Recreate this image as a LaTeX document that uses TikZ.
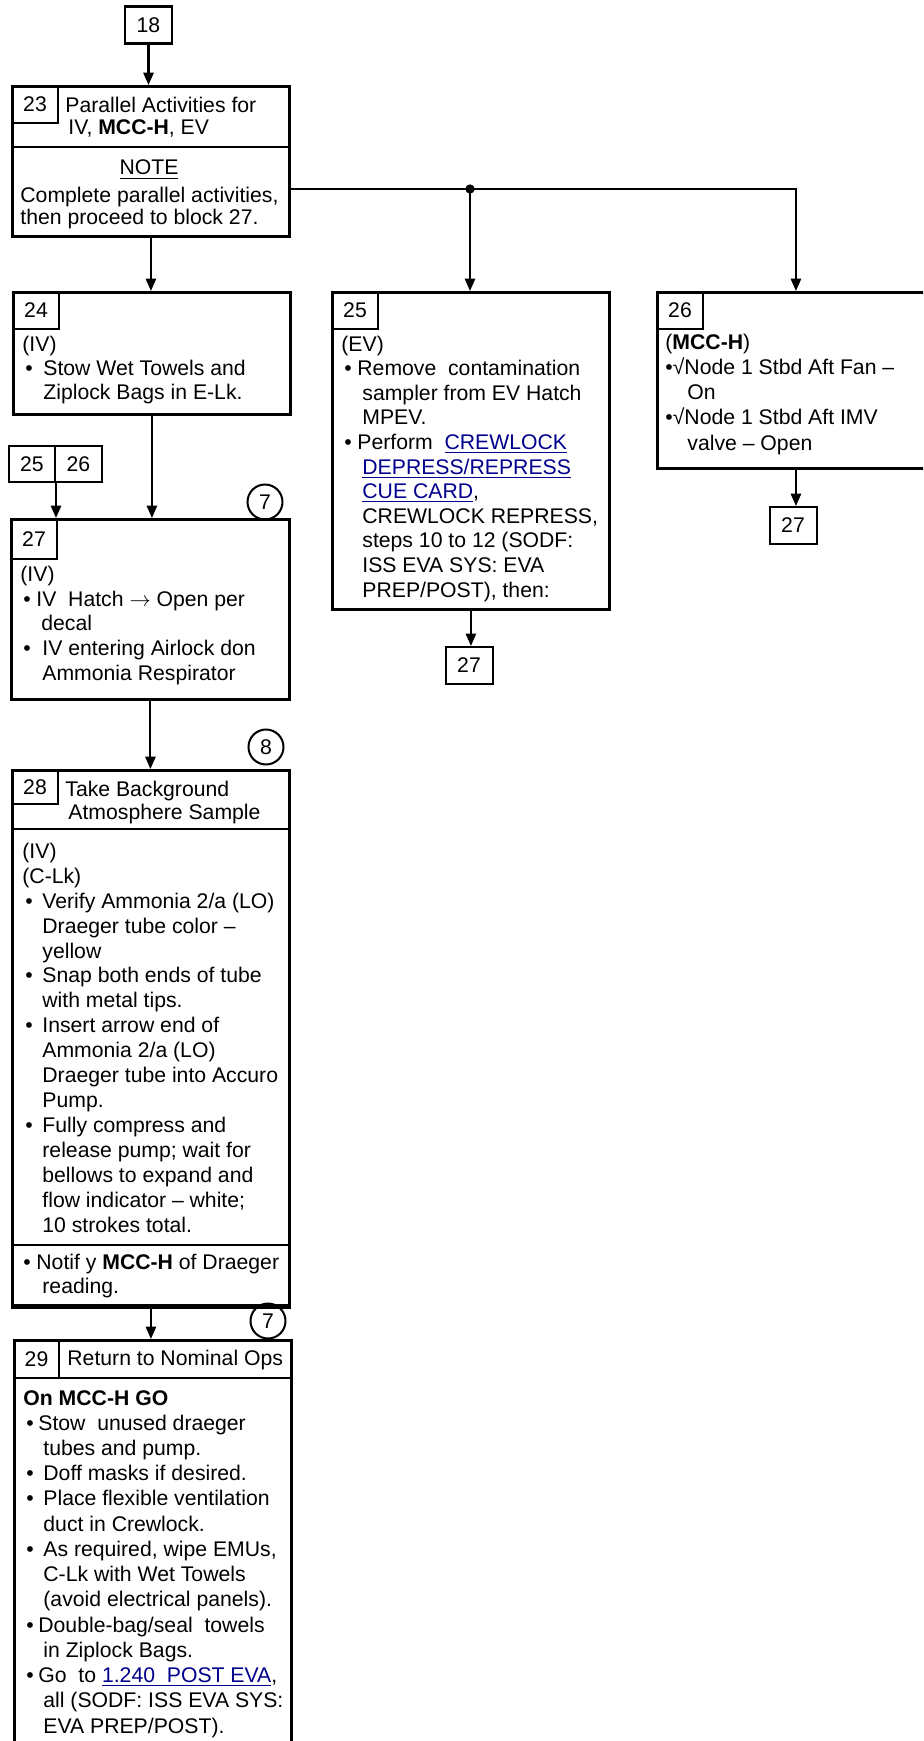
\documentclass[tikz,border=0pt]{standalone}
\usepackage{fontspec}
\setmainfont{Liberation Sans}
\usetikzlibrary{arrows.meta}

\newlength{\pxu}
\setlength{\pxu}{0.4717pt}
\definecolor{linkblue}{RGB}{0,0,140}
\newcommand{\bul}[1]{\makebox[#1\pxu][l]{\hspace*{3\pxu}\textbullet}}
\newcommand{\gap}[1]{\hspace*{#1\pxu}}
\newcommand{\lnk}[1]{\textcolor{linkblue}{\underline{#1}}}

\begin{document}
\begin{tikzpicture}[
    x=0.4717pt, y=-0.4717pt,
    frame/.style={draw, line width=1.35pt, anchor=north west, inner sep=0pt, minimum width=277*\pxu},
    head/.style={draw, line width=0.95pt, anchor=north west, inner sep=0pt, minimum width=277*\pxu},
    cell/.style={draw, line width=0.95pt, anchor=north west, inner sep=0pt, minimum width=46*\pxu},
    tag/.style={draw, line width=0.95pt, inner sep=0pt, minimum width=47*\pxu, minimum height=37*\pxu},
    ring/.style={circle, draw, line width=0.95pt, inner sep=0pt, minimum size=35*\pxu},
    txt/.style={anchor=base west, align=left, inner sep=0pt, font=\fontsize{10}{#1}\selectfont},
    txt/.default=11.6,
    arrow/.style={-{Triangle[length=5.8pt,width=4.8pt]}, line width=0.95pt},
    every node/.style={font=\fontsize{10}{11.6}\selectfont}
]
\useasboundingbox (0,0) rectangle (923,1741);
\clip (0,0) rectangle (923,1741);

% Entry
\node[tag] (t18) at (148.5,25) {18};

% Block 23: parallel activities (text nodes sit on their last baseline)
\node[frame, minimum height=150*\pxu] (b23) at (11,85) {};
\node[head, minimum height=61*\pxu] (h23) at (11,85) {};
\node[cell, minimum height=37*\pxu] (n23) at (11,85) {23};
\node[txt=10.7] (l23) at (65,135) {Parallel Activities for\\\gap{3}IV, \textbf{MCC-H}, EV};
\node[txt, anchor=base] (note23) at (149,175) {\underline{NOTE}};
\node[txt=10.7] (m23) at (20,225) {Complete parallel activities,\\then proceed to block 27.};

% Block 24 (IV)
\node[frame, minimum height=122*\pxu] (b24) at (12,291) {};
\node[cell, minimum height=37*\pxu] (n24) at (12,291) {24};
\node[txt=11.3] (l24) at (22,399) {(IV)\\
  \bul{21}Stow Wet Towels and\\
  \gap{21}Ziplock Bags in E-Lk.};

% Block 25 (EV)
\node[frame, minimum height=317*\pxu] (b25) at (331,291) {};
\node[cell, minimum height=37*\pxu] (n25) at (331,291) {25};
\node[txt=11.6] (l25) at (341,597) {(EV)\\
  \bul{16}Remove~~contamination\\
  \gap{21}sampler from EV Hatch\\
  \gap{21}MPEV.\\
  \bul{16}Perform~~\lnk{CREWLOCK}\\
  \gap{21}\lnk{DEPRESS/REPRESS}\\
  \gap{21}\lnk{CUE CARD},\\
  \gap{21}CREWLOCK REPRESS,\\
  \gap{21}steps 10 to 12 (SODF:\\
  \gap{21}ISS EVA SYS: EVA\\
  \gap{21}PREP/POST), then:};

% Block 26 (MCC-H)
\node[frame, minimum height=176*\pxu] (b26) at (656,291) {};
\node[cell, minimum height=37*\pxu] (n26) at (656,291) {26};
\node[txt=11.8] (l26) at (665,450) {(\textbf{MCC-H})\\
  \textbullet√Node 1 Stbd Aft Fan --\\
  \gap{22}On\\
  \textbullet√Node 1 Stbd Aft IMV\\
  \gap{22}valve -- Open};

% Off-page references
\node[tag] (t27a) at (469,665.5) {27};
\node[tag] (t27b) at (793,525.5) {27};
\node[tag, minimum width=46*\pxu, minimum height=36*\pxu] (t25) at (32,464) {25};
\node[tag, minimum height=36*\pxu] (t26) at (78.5,464) {26};

% Block 27
\node[frame, minimum width=278*\pxu, minimum height=180*\pxu] (b27) at (10,518) {};
\node[cell, minimum height=40*\pxu] (n27) at (10,518) {27};
\node[ring] (c7a) at (265,502) {7};
\node[txt=11.6] (l27) at (20,680) {(IV)\\
  \bul{16}IV~~Hatch $\rightarrow$ Open per\\
  \gap{21}decal\\
  \bul{22}IV entering Airlock don\\
  \gap{22}Ammonia Respirator};

% Block 28: background sample
\node[frame, minimum height=537*\pxu] (b28) at (11,769) {};
\node[head, minimum height=59*\pxu] (h28) at (11,769) {};
\node[cell, minimum height=34*\pxu] (n28) at (11,769) {28};
\node[head, anchor=south west, minimum height=60*\pxu] (f28) at (11,1306) {};
\node[ring] (c8) at (266,747) {8};
\node[txt=10.7] (l28) at (65,819) {Take Background\\\gap{3}Atmosphere Sample};
\node[txt=11.75] (m28) at (22,1232) {(IV)\\
  (C-Lk)\\
  \bul{20}Verify Ammonia 2/a (LO)\\
  \gap{20}Draeger tube color --\\
  \gap{20}yellow\\
  \bul{20}Snap both ends of tube\\
  \gap{20}with metal tips.\\
  \bul{20}Insert arrow end of\\
  \gap{20}Ammonia 2/a (LO)\\
  \gap{20}Draeger tube into Accuro\\
  \gap{20}Pump.\\
  \bul{20}Fully compress and\\
  \gap{20}release pump; wait for\\
  \gap{20}bellows to expand and\\
  \gap{20}flow indicator -- white;\\
  \gap{20}10 strokes total.};
\node[txt=10.9] (r28) at (20,1293) {\bul{16}Notif y \textbf{MCC-H} of Draeger\\
  \gap{22}reading.};

% Block 29: nominal ops
\node[frame, minimum height=420*\pxu] (b29) at (13,1339) {};
\node[head, minimum height=38*\pxu] (h29) at (13,1339) {};
\node[cell, minimum width=45*\pxu, minimum height=38*\pxu] (n29) at (13,1339) {29};
\node[ring] (c7b) at (268,1321) {7};
\node[txt] (l29) at (67,1365) {Return to Nominal Ops};
\node[txt=11.9] (m29) at (23,1733) {\textbf{On MCC-H GO}\\
  \bul{15}Stow~~unused draeger\\
  \gap{20}tubes and pump.\\
  \bul{20}Doff masks if desired.\\
  \bul{20}Place flexible ventilation\\
  \gap{20}duct in Crewlock.\\
  \bul{20}As required, wipe EMUs,\\
  \gap{20}C-Lk with Wet Towels\\
  \gap{20}(avoid electrical panels).\\
  \bul{15}Double-bag/seal~~towels\\
  \gap{20}in Ziplock Bags.\\
  \bul{15}Go~~to \lnk{1.240~~POST EVA},\\
  \gap{20}all (SODF: ISS EVA SYS:\\
  \gap{20}EVA PREP/POST).};

% Connectors
\coordinate (split) at (470,189);
\draw[arrow] (t18.south) -- (t18.south |- b23.north);
\draw[arrow] (b23.south) -- (b23.south |- b24.north);
\draw[line width=0.95pt] (b23.east |- split) -- (split);
\draw[arrow] (split) -- (split |- b25.north);
\draw[arrow] (split) -| (b26.north);
\fill (split) circle (2.2pt);
\draw[arrow] (b25.south) -- (b25.south |- t27a.north);
\draw[arrow] (b26.south) -- (b26.south |- t27b.north);
\draw[arrow] (t25.south east) -- (t25.south east |- b27.north);
\draw[arrow] (b24.south) -- (b24.south |- b27.north);
\draw[arrow] (b27.south) -- (b27.south |- b28.north);
\draw[arrow] (b28.south) -- (b28.south |- b29.north);

\end{tikzpicture}
\end{document}
